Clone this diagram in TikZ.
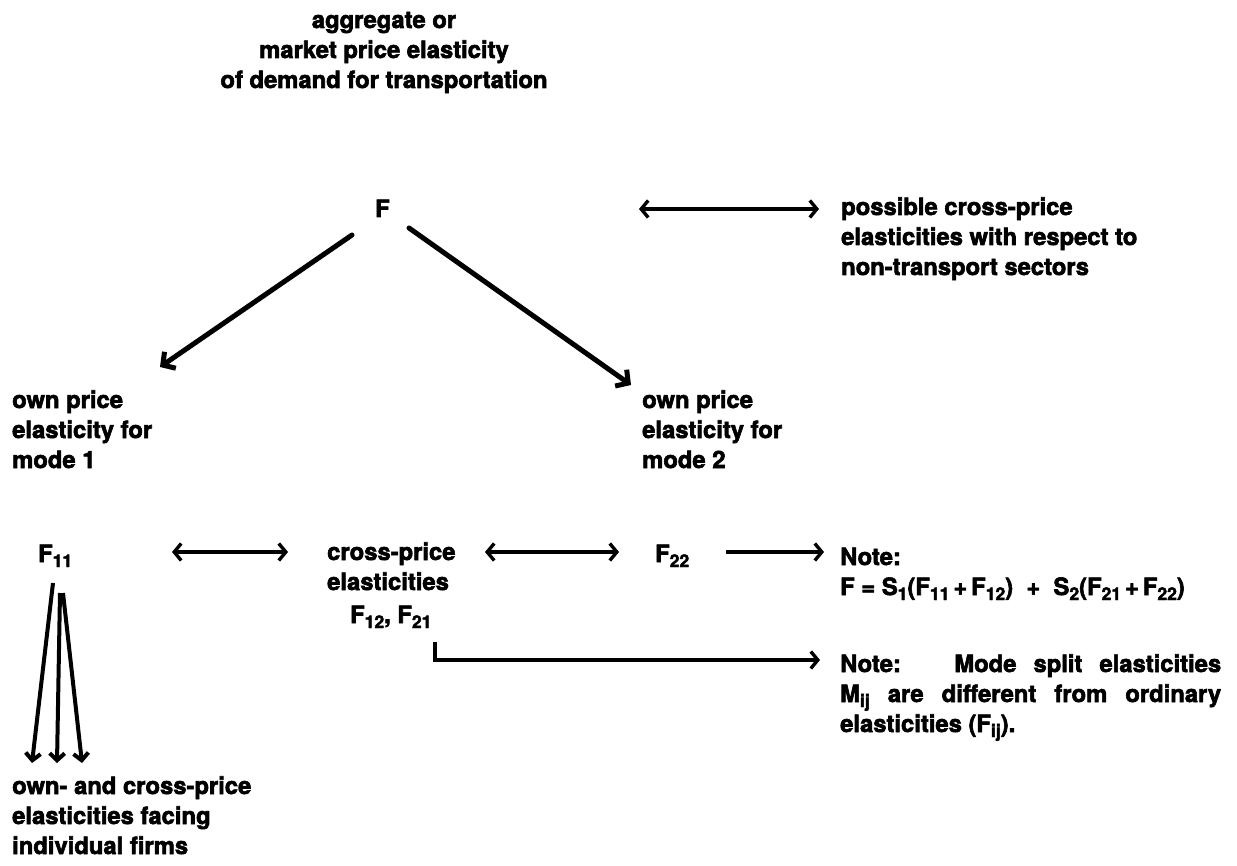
\documentclass[tikz,border=0pt]{standalone}
\usepackage{fontspec}
\setmainfont{TeX Gyre Heros}[BoldFeatures={FakeBold=2.5}]
\usetikzlibrary{arrows.meta}
\newcommand{\sbs}[1]{\raisebox{-5pt}{\fontsize{17.5}{17.5}\selectfont #1}}
\begin{document}
\begin{tikzpicture}[x=1pt,y=-1pt,
  txt/.style={font=\bfseries\fontsize{23.8}{30}\selectfont, inner sep=0pt, align=left, anchor=base west},
  diag/.style={line width=5pt, line cap=round, -{Straight Barb[length=9pt,width=20pt]}},
  harr/.style={line width=3.4pt, -{Straight Barb[length=7pt,width=17pt]}},
  hdbl/.style={line width=3.4pt, {Straight Barb[length=7pt,width=17pt]}-{Straight Barb[length=7pt,width=17pt]}},
  varr/.style={line width=4pt, -{Straight Barb[length=7pt,width=15pt]}}
]
\useasboundingbox (0,0) rectangle (1237,866);
\fill[white] (0,0) rectangle (1237,866);

% texts (multi-line nodes: base = last line)
\node[txt, align=center, anchor=base] (agg) at (384,88) {aggregate or\\market price elasticity\\of demand for transportation};
\node[txt] (F) at (375,217) {F};
\node[txt] (m1) at (12,468) {own price\\elasticity for\\mode 1};
\node[txt] (m2) at (642,468) {own price\\elasticity for\\mode 2};
\node[txt] (ncs) at (841,275) {possible cross-price\\elasticities with respect to\\non-transport sectors};
\node[txt] (F11) at (38,562) {F\sbs{11}};
\node[txt] (cross) at (327,590) {cross-price\\elasticities};
\node[txt] (F1221) at (350,623) {F\sbs{12}, F\sbs{21}};
\node[txt] (F22) at (655,562) {F\sbs{22}};
\node[txt] (note1) at (840,595) {Note:\\F = S\sbs{1}(F\sbs{11}\,+\,F\sbs{12})\; + \;S\sbs{2}(F\sbs{21}\,+\,F\sbs{22})};
\node[txt, text width=381pt, align=justify] (note2) at (840,672) {Note:\hspace{1em} Mode split elasticities\linebreak M\sbs{ij} are different from ordinary\linebreak elasticities (F\sbs{ij}).};
\node[txt] (firms) at (12,854) {own- and cross-price\\elasticities facing\\individual firms};

% connector end points
\coordinate (fL) at (352,235); \coordinate (m1tip) at (160,367);
\coordinate (fR) at (409,228); \coordinate (m2tip) at (631,385);
\coordinate (ta) at (639,209); \coordinate (tb) at (819,209);
\coordinate (r1a) at (172,552); \coordinate (r1b) at (288,552);
\coordinate (r2a) at (485,552); \coordinate (r2b) at (619,552);
\coordinate (r3a) at (726,552); \coordinate (r3b) at (824,552);
\coordinate (e0) at (435,642); \coordinate (e1) at (435,660); \coordinate (e2) at (820,660);
\coordinate (b1s) at (53,583); \coordinate (b1t) at (32,763);
\coordinate (b2s) at (60,593); \coordinate (b2t) at (57,763);
\coordinate (b3s) at (63,593); \coordinate (b3t) at (82,763);

% connectors
\draw[diag] (fL) -- (m1tip);
\draw[diag] (fR) -- (m2tip);
\draw[hdbl] (ta) -- (tb);
\draw[hdbl] (r1a) -- (r1b);
\draw[hdbl] (r2a) -- (r2b);
\draw[harr] (r3a) -- (r3b);
\draw[harr] (e0) -- (e1) -- (e2);
\draw[varr] (b1s) -- (b1t);
\draw[varr] (b2s) -- (b2t);
\draw[varr] (b3s) -- (b3t);
\end{tikzpicture}
\end{document}
